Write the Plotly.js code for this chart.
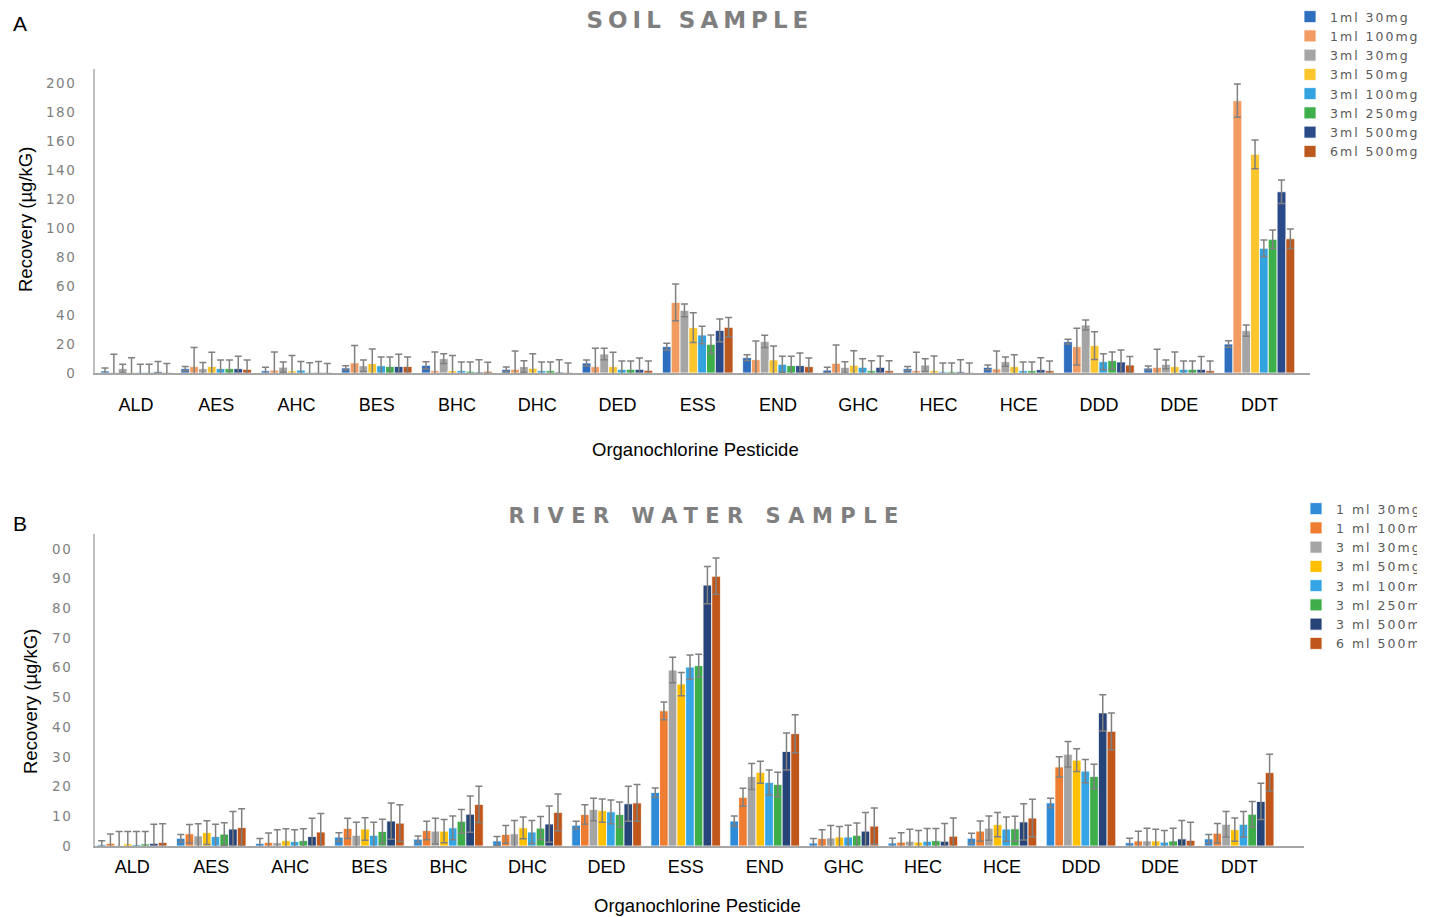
<!DOCTYPE html>
<html>
<head>
<meta charset="utf-8">
<script src="https://cdn.plot.ly/plotly-3.0.1.min.js"></script>
<style>
  html, body { margin: 0; padding: 0; background: #fff; }
  #chart { width: 1432px; height: 917px; }
  .annotation[data-index="0"] text { letter-spacing: 5px; }
  .annotation[data-index="1"] text { letter-spacing: 7.5px; }
  .legendtext, .legend text, .legend2 text, [class*="legend"] text {
    font-family: 'DejaVu Sans', sans-serif !important; letter-spacing: 2px !important;
  }
  .ytick text, .y2tick text { letter-spacing: 1.5px; }
</style>
</head>
<body>
<div id="chart"></div>
<script>
// ---------- DATA ----------
const categories = ['ALD','AES','AHC','BES','BHC','DHC','DED','ESS','END','GHC','HEC','HCE','DDD','DDE','DDT'];

// Panel A: soil sample
const soilNames = ['1ml 30mg','1ml 100mg','3ml 30mg','3ml 50mg','3ml 100mg','3ml 250mg','3ml 500mg','6ml 500mg'];
const soil_1ml30  = [1.4, 3, 1.5, 3.5, 5.3, 2.5, 6.9, 18.2, 10.6, 2, 3, 3.9, 21.6, 3.4, 20];
const soil_1ml100 = [0.5, 4.4, 2, 7, 1.6, 2.5, 4.4, 48.7, 9.2, 6.7, 1.6, 2.8, 18.2, 3.9, 187.8];
const soil_3ml30  = [3, 3, 4, 5, 9.9, 4.4, 13.1, 43.2, 21.8, 3.9, 5.5, 7.8, 33.1, 6, 29.2];
const soil_3ml50  = [0.5, 4.5, 1.5, 6.5, 1.6, 3.2, 4.4, 31.3, 9, 5.3, 1.6, 4.4, 18.9, 4.4, 150.8];
const soil_3ml100 = [0.5, 3, 2, 5, 1.6, 1.6, 2.5, 26.2, 6, 3.9, 0.9, 1.6, 7.8, 2.5, 86];
const soil_3ml250 = [0.5, 3, 0.5, 4.5, 1.2, 1.6, 2.5, 19.8, 5.1, 1.6, 0.9, 1.6, 8.5, 2.5, 92.2];
const soil_3ml500 = [1, 3, 0.5, 4.5, 0.7, 0.7, 2.5, 29.4, 5.1, 3.9, 0.9, 2.3, 7.6, 2.5, 125];
const soil_6ml500 = [0.5, 2.5, 0.5, 4.5, 1.2, 0.5, 1.8, 31.5, 4.4, 1.6, 0.5, 1.6, 5.5, 1.6, 92.6];

const soilErr_1ml30  = [2, 1.5, 2.5, 1.5, 2.5, 1.6, 2.1, 2.3, 2, 2, 1.4, 1.6, 1.6, 1.4, 2.3];
const soilErr_1ml100 = [12.5, 13.1, 12.5, 12, 12.9, 12.7, 12.6, 12.7, 12.9, 12.6, 12.7, 12.4, 12.6, 12.4, 11.5];
const soilErr_3ml30  = [3, 4.3, 3.5, 4, 3.4, 4.1, 3.9, 4.4, 4.2, 3.9, 4.4, 3.2, 3.5, 3, 3.9];
const soilErr_3ml50  = [10, 9.8, 10.5, 10, 10.4, 10.1, 9.9, 10.3, 9.6, 10.1, 10.1, 8.2, 9.6, 10.1, 9.9];
const soilErr_3ml100 = [5.5, 6, 6, 6, 6, 6, 5.8, 6, 5.5, 6, 6, 6, 5.5, 5.8, 5.7];
const soilErr_3ml250 = [5.5, 6, 6.5, 6.5, 6.4, 6, 5.8, 6.4, 6.4, 6.9, 6, 6, 6, 5.8, 6.4];
const soilErr_3ml500 = [7, 8.5, 7.5, 8.5, 8.5, 8.5, 7.8, 7.8, 8.7, 7.8, 8.3, 8.3, 8.3, 8.8, 8.1];
const soilErr_6ml500 = [6, 6.5, 6, 6.5, 6.2, 6.4, 6.5, 6.7, 5.9, 6.9, 6.4, 6.7, 5.8, 6.7, 6.7];

// Panel B: river water sample
const riverNames = ['1 ml 30mg','1 ml 100mg','3 ml 30mg','3 ml 50mg','3 ml 100mg','3 ml 250mg','3 ml 500mg','6 ml 500mg'];
const river_1ml30  = [0.5, 2.6, 0.9, 3, 2.3, 1.7, 7, 18, 8.4, 1, 1, 2.6, 14.5, 1.1, 2.4];
const river_1ml100 = [0.9, 4.1, 1.2, 5.9, 5.2, 3.9, 10.6, 45.5, 16.4, 2.5, 1.3, 5, 26.6, 1.7, 4.3];
const river_3ml30  = [0.2, 3.4, 1.1, 3.6, 5, 4.1, 12.3, 59.2, 23.4, 2.7, 1.6, 6, 30.9, 1.7, 7.3];
const river_3ml50  = [0.7, 4.5, 1.8, 5.7, 5, 6.1, 11.9, 54.5, 24.8, 3, 1.3, 7.2, 28.9, 1.7, 5.5];
const river_3ml100 = [0.5, 3.2, 1.5, 3.6, 6.1, 4.7, 11.5, 60.2, 21.4, 3, 1.6, 5.7, 25.2, 1.3, 7.3];
const river_3ml250 = [0.7, 4, 1.8, 4.9, 8.3, 6, 10.6, 60.7, 20.7, 3.6, 1.8, 5.8, 23.4, 1.7, 10.7];
const river_3ml500 = [0.9, 5.7, 3.2, 8.4, 10.7, 7.4, 14.2, 87.8, 31.8, 5, 1.6, 8.1, 44.8, 2.4, 15];
const river_6ml500 = [1.2, 6.2, 4.7, 7.7, 14, 11.3, 14.5, 90.8, 37.8, 6.7, 3.3, 9.4, 38.6, 1.9, 24.7];

const riverErr_1ml30  = [1.3, 1.3, 1.6, 1.5, 1.1, 1.5, 1.3, 1.5, 1.7, 1.5, 1.6, 1.7, 1.6, 1.5, 1.5];
const riverErr_1ml100 = [3.1, 3.1, 3.2, 3.4, 3.1, 3, 3.3, 3, 3, 3, 3.2, 3.4, 3.4, 3.3, 3.3];
const riverErr_3ml30  = [4.7, 4.1, 4.4, 4.4, 4.3, 4.5, 3.8, 4.3, 4.4, 4.2, 4, 4.1, 4.3, 4.3, 4.3];
const riverErr_3ml50  = [4.2, 4, 4, 3.8, 3.9, 3.7, 3.9, 3.9, 3.7, 3.6, 3.9, 4.1, 3.8, 3.9, 3.9];
const riverErr_3ml100 = [4.4, 4.1, 4, 4.4, 4, 3.9, 4, 4.1, 4.2, 4, 4.3, 4.1, 3.9, 3.9, 4.3];
const riverErr_3ml250 = [4.2, 3.8, 4, 4.1, 4, 3.9, 4.2, 3.8, 4.1, 4.1, 4.1, 4.2, 4.1, 4.3, 4.3];
const riverErr_3ml500 = [6.4, 5.9, 6.1, 6.1, 6.1, 6.1, 5.9, 6.3, 6.2, 6.3, 6, 6.1, 6.1, 6.2, 6.1];
const riverErr_6ml500 = [6.3, 6.3, 6.2, 6.2, 6.1, 6.2, 6.2, 6.1, 6.4, 6.1, 6.1, 6.3, 6.2, 6.1, 6.2];

const soilTickVals = [0, 20, 40, 60, 80, 100, 120, 140, 160, 180, 200];
const riverTickVals = [0, 10, 20, 30, 40, 50, 60, 70, 80, 90, 100];
const riverTickText = ['0', '10', '20', '30', '40', '50', '60', '70', '80', '90', '00'];

// ---------- STYLE ----------
const soilColors  = ['#2E6EBE', '#F39C62', '#A5A5A5', '#FDC62D', '#33A3E0', '#3DB04B', '#2A4A8A', '#BC571D'];
const riverColors = ['#2E8BD8', '#EF7D31', '#A5A5A5', '#FFC000', '#35A5E5', '#3DAE4A', '#264478', '#C0561A'];

const soilVals = [soil_1ml30, soil_1ml100, soil_3ml30, soil_3ml50, soil_3ml100, soil_3ml250, soil_3ml500, soil_6ml500];
const soilErrs = [soilErr_1ml30, soilErr_1ml100, soilErr_3ml30, soilErr_3ml50, soilErr_3ml100, soilErr_3ml250, soilErr_3ml500, soilErr_6ml500];
const riverVals = [river_1ml30, river_1ml100, river_3ml30, river_3ml50, river_3ml100, river_3ml250, river_3ml500, river_6ml500];
const riverErrs = [riverErr_1ml30, riverErr_1ml100, riverErr_3ml30, riverErr_3ml50, riverErr_3ml100, riverErr_3ml250, riverErr_3ml500, riverErr_6ml500];

const W = 1432, H = 917;
const px = x => x / W;
const py = y => 1 - y / H;

function errStyle(arr) {
  return { type: 'data', array: arr, symmetric: true, color: '#808080', thickness: 1.5, width: 3.5 };
}

const traces = [];
soilNames.forEach((n, i) => {
  traces.push({
    type: 'bar', name: n, x: categories, y: soilVals[i],
    xaxis: 'x', yaxis: 'y', legend: 'legend',
    marker: { color: soilColors[i], line: { color: '#FFFFFF', width: 0.8 } },
    error_y: errStyle(soilErrs[i]),
    hoverinfo: 'x+y+name'
  });
});
riverNames.forEach((n, i) => {
  traces.push({
    type: 'bar', name: n, x: categories, y: riverVals[i],
    xaxis: 'x2', yaxis: 'y2', legend: 'legend2',
    marker: { color: riverColors[i], line: { color: '#FFFFFF', width: 0.8 } },
    error_y: errStyle(riverErrs[i]),
    hoverinfo: 'x+y+name'
  });
});

const xTickFont = { family: 'Liberation Sans, Arial, sans-serif', size: 18, color: '#000000' };
const yTickFont = { family: 'DejaVu Sans, sans-serif', size: 13.5, color: '#7F7F7F' };
const titleFont = { family: 'Liberation Sans, Arial, sans-serif', size: 18.5, color: '#000000' };
const legendFont = { family: 'DejaVu Sans, sans-serif', size: 12.5, color: '#595959' };

const layout = {
  width: W, height: H,
  margin: { l: 0, r: 0, t: 0, b: 0, autoexpand: false },
  paper_bgcolor: '#FFFFFF', plot_bgcolor: '#FFFFFF',
  barmode: 'group', bargap: 0.12, bargroupgap: 0,
  showlegend: true,
  xaxis: {
    domain: [px(95), px(1310)], anchor: 'y', type: 'category',
    range: [-0.51, 14.63], showline: true, linecolor: '#A6A6A6', linewidth: 2,
    ticks: '', tickfont: xTickFont, ticklabelstandoff: 14,
    showgrid: false, zeroline: false, fixedrange: true
  },
  yaxis: {
    domain: [py(373), py(68.5)], anchor: 'x', range: [0, 210],
    tickmode: 'array', tickvals: soilTickVals,
    showline: true, linecolor: '#BFBFBF', linewidth: 2,
    ticks: '', tickfont: yTickFont, ticklabelstandoff: 14,
    showgrid: false, zeroline: false, fixedrange: true
  },
  xaxis2: {
    domain: [px(95), px(1304)], anchor: 'y2', type: 'category',
    range: [-0.47, 14.82], showline: true, linecolor: '#A6A6A6', linewidth: 2,
    ticks: '', tickfont: xTickFont, ticklabelstandoff: 3,
    showgrid: false, zeroline: false, fixedrange: true
  },
  yaxis2: {
    domain: [py(846), py(534)], anchor: 'x2', range: [0, 105],
    tickmode: 'array', tickvals: riverTickVals, ticktext: riverTickText,
    showline: true, linecolor: '#BFBFBF', linewidth: 2,
    ticks: '', tickfont: yTickFont, ticklabelstandoff: 18,
    showgrid: false, zeroline: false, fixedrange: true
  },
  legend: {
    x: px(1290), xanchor: 'left', y: py(2), yanchor: 'top',
    font: legendFont, bgcolor: 'rgba(0,0,0,0)', tracegroupgap: 0, traceorder: 'normal'
  },
  legend2: {
    x: px(1296), xanchor: 'left', y: py(494), yanchor: 'top',
    font: legendFont, bgcolor: 'rgba(0,0,0,0)', tracegroupgap: 0, traceorder: 'normal'
  },
  annotations: [
    { text: 'SOIL SAMPLE', x: px(700), y: py(20), xref: 'paper', yref: 'paper',
      xanchor: 'center', yanchor: 'middle', showarrow: false,
      font: { family: 'DejaVu Sans, sans-serif', size: 23, color: '#7F7F7F', weight: 'bold' } },
    { text: 'RIVER WATER SAMPLE', x: px(707), y: py(516), xref: 'paper', yref: 'paper',
      xanchor: 'center', yanchor: 'middle', showarrow: false,
      font: { family: 'DejaVu Sans, sans-serif', size: 21, color: '#7F7F7F', weight: 'bold' } },
    { text: 'A', x: px(20), y: py(24), xref: 'paper', yref: 'paper',
      xanchor: 'center', yanchor: 'middle', showarrow: false,
      font: { family: 'Liberation Sans, Arial, sans-serif', size: 21, color: '#000000' } },
    { text: 'B', x: px(20), y: py(523), xref: 'paper', yref: 'paper',
      xanchor: 'center', yanchor: 'middle', showarrow: false,
      font: { family: 'Liberation Sans, Arial, sans-serif', size: 21, color: '#000000' } },
    { text: 'Recovery (µg/kG)', x: px(25), y: py(220), xref: 'paper', yref: 'paper',
      xanchor: 'center', yanchor: 'middle', showarrow: false, textangle: -90, font: titleFont },
    { text: 'Recovery (µg/kG)', x: px(30), y: py(702), xref: 'paper', yref: 'paper',
      xanchor: 'center', yanchor: 'middle', showarrow: false, textangle: -90, font: titleFont },
    { text: 'Organochlorine Pesticide', x: px(695), y: py(449), xref: 'paper', yref: 'paper',
      xanchor: 'center', yanchor: 'middle', showarrow: false, font: titleFont },
    { text: 'Organochlorine Pesticide', x: px(697), y: py(905), xref: 'paper', yref: 'paper',
      xanchor: 'center', yanchor: 'middle', showarrow: false, font: titleFont }
  ]
};

Plotly.newPlot('chart', traces, layout, { displayModeBar: false, responsive: false });
</script>
</body>
</html>
